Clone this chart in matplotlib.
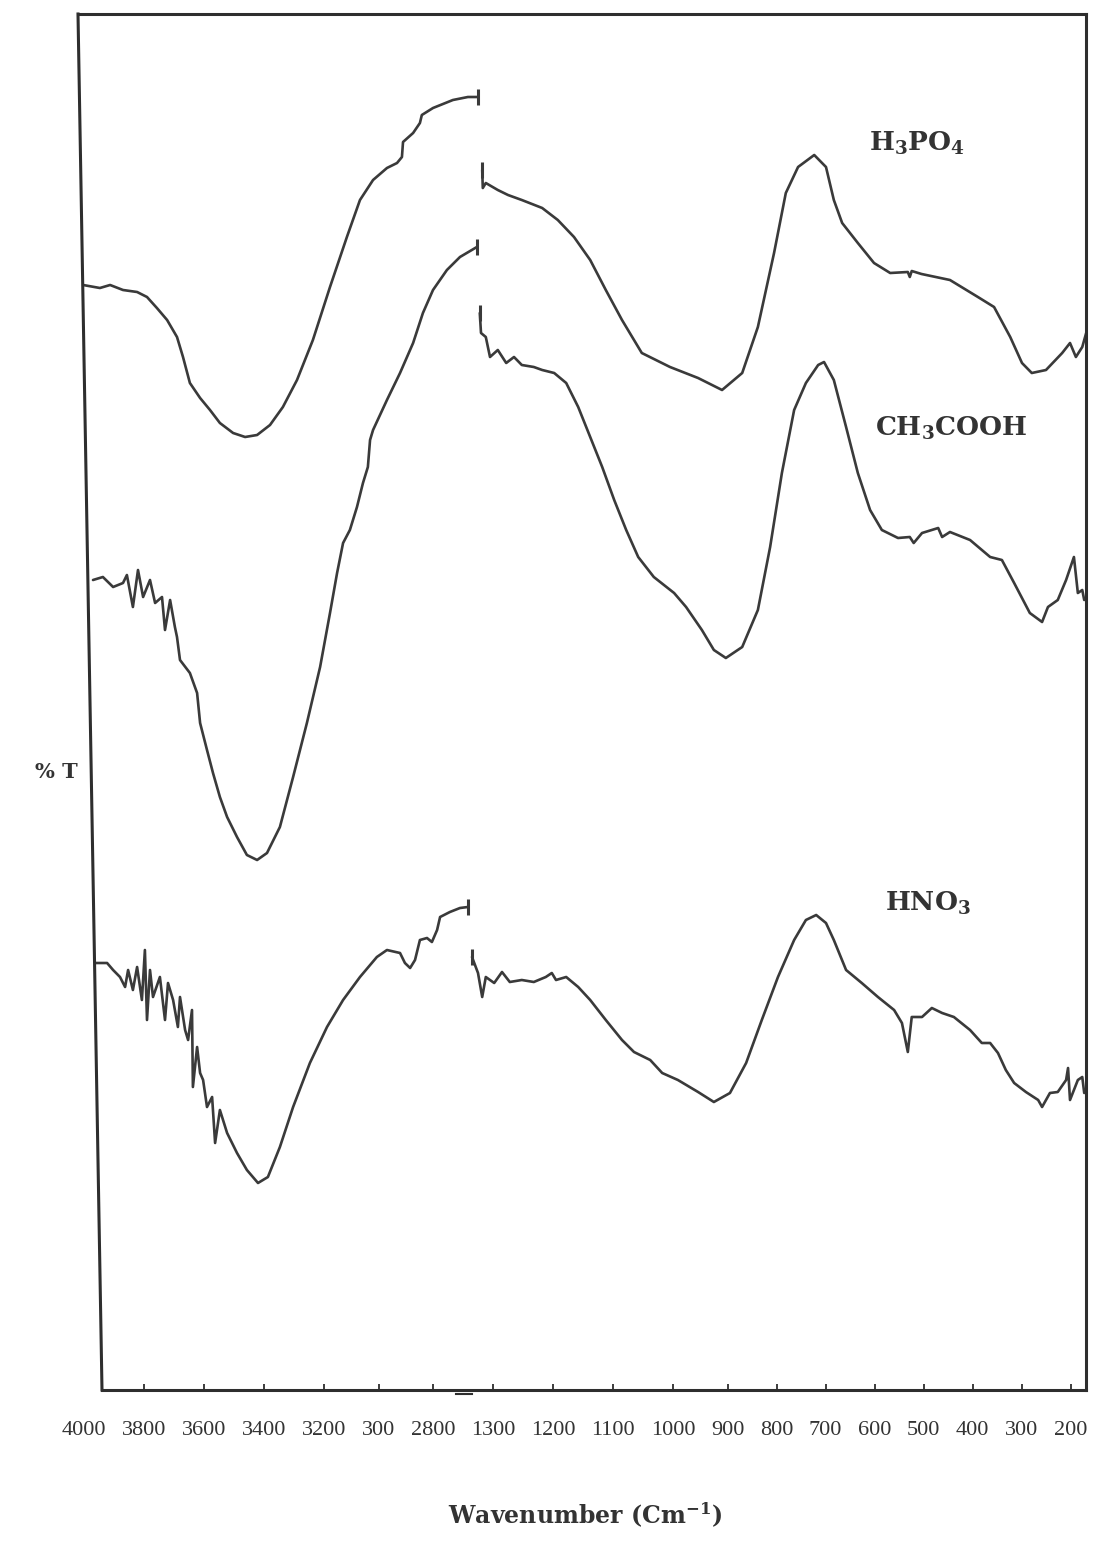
import numpy as np
import matplotlib.pyplot as plt

plt.rcParams['mathtext.fontset'] = 'dejavuserif'

# x axis is broken: 4000-2800 on the left, 1300-200 on the right
# (the chart prints "300" where 3000 belongs, kept as printed)
left_ticks = [4000, 3800, 3600, 3400, 3200, 3000, 2800]
left_tick_text = ['4000', '3800', '3600', '3400', '3200', '300', '2800']
right_ticks = [1300, 1200, 1100, 1000, 900, 800, 700, 600, 500, 400, 300, 200]
right_tick_text = [str(t) for t in right_ticks]

# spectra: wavenumber (cm-1) and stacked %T (arbitrary offset units)
h3po4_wn_hi = [4003, 3947, 3913, 3870, 3823, 3790, 3757, 3723, 3690, 3670, 3647, 3613,
               3580, 3547, 3503, 3463, 3423, 3380, 3337, 3290, 3237, 3178, 3116, 3068,
               3020, 2969, 2932, 2914, 2910, 2873, 2848, 2841, 2800, 2727, 2672, 2634]
h3po4_t_hi = [110.5, 110.2, 110.5, 110.0, 109.8, 109.3, 108.2, 107.0, 105.3, 103.3, 100.7, 99.2,
              98.0, 96.7, 95.7, 95.3, 95.5, 96.5, 98.3, 101.0, 105.0, 110.3, 115.3, 119.0,
              121.0, 122.2, 122.7, 123.3, 124.8, 125.7, 126.7, 127.5, 128.2, 129.0, 129.3, 129.3]
h3po4_wn_lo = [1318, 1317, 1312, 1292, 1275, 1252, 1218, 1192, 1165, 1138, 1112, 1085,
               1052, 1005, 954, 910, 870, 838, 805, 781, 756, 723, 699, 683, 666, 634,
               601, 568, 532, 528, 524, 504, 446, 389, 356, 323, 299, 279, 250, 217,
               201, 189, 176, 168]
h3po4_t_lo = [122.0, 120.2, 120.7, 120.0, 119.5, 119.0, 118.2, 117.0, 115.3, 113.0, 110.0, 107.0,
              103.7, 102.3, 101.2, 100.0, 101.7, 106.3, 113.7, 119.7, 122.3, 123.5, 122.3, 119.0,
              116.7, 114.7, 112.7, 111.7, 111.8, 111.3, 111.9, 111.6, 111.0, 109.3, 108.3, 105.3,
              102.7, 101.7, 102.0, 103.7, 104.7, 103.3, 104.3, 105.7]

ch3cooh_wn_hi = [3970, 3937, 3903, 3870, 3857, 3837, 3820, 3803, 3780, 3763, 3740, 3730,
                 3713, 3697, 3690, 3680, 3647, 3623, 3613, 3590, 3570, 3547, 3523, 3490,
                 3457, 3423, 3390, 3347, 3303, 3257, 3213, 3178, 3152, 3130, 3105, 3079,
                 3057, 3039, 3031, 3020, 2969, 2921, 2873, 2837, 2800, 2749, 2701, 2639]
ch3cooh_t_hi = [81.0, 81.3, 80.3, 80.7, 81.5, 78.3, 82.0, 79.3, 81.0, 78.7, 79.3, 76.0,
                79.0, 76.3, 75.3, 73.0, 71.7, 69.7, 66.7, 64.0, 61.7, 59.3, 57.3, 55.3,
                53.5, 53.0, 53.7, 56.3, 61.3, 66.7, 72.3, 77.7, 81.7, 84.7, 86.0, 88.3,
                90.7, 92.3, 95.0, 96.0, 99.0, 101.7, 104.7, 107.7, 110.0, 112.0, 113.3, 114.3]
ch3cooh_wn_lo = [1322, 1320, 1312, 1305, 1292, 1278, 1265, 1252, 1232, 1218, 1198, 1178,
                 1158, 1138, 1118, 1098, 1078, 1058, 1032, 998, 976, 947, 925, 903, 870,
                 838, 813, 789, 764, 740, 715, 703, 683, 658, 634, 609, 585, 552, 528,
                 520, 503, 470, 462, 446, 405, 364, 340, 315, 283, 258, 246, 226, 209,
                 193, 185, 176, 172]
ch3cooh_t_lo = [107.7, 105.7, 105.3, 103.3, 104.0, 102.7, 103.3, 102.5, 102.3, 102.0, 101.7, 100.7,
                98.3, 95.3, 92.3, 89.0, 86.0, 83.3, 81.3, 79.7, 78.3, 76.0, 74.0, 73.2, 74.3,
                78.0, 84.3, 91.7, 98.0, 100.7, 102.5, 102.8, 101.0, 96.3, 91.7, 88.0, 86.0, 85.2,
                85.3, 84.7, 85.7, 86.2, 85.3, 85.8, 85.0, 83.3, 83.0, 80.7, 77.7, 76.8, 78.3,
                79.0, 81.0, 83.3, 79.7, 80.0, 79.0]

hno3_wn_hi = [3963, 3923, 3903, 3880, 3863, 3853, 3837, 3823, 3807, 3797, 3790, 3780,
              3770, 3747, 3730, 3720, 3703, 3687, 3680, 3663, 3653, 3640, 3637, 3623,
              3613, 3603, 3590, 3573, 3563, 3547, 3523, 3490, 3457, 3420, 3387, 3347,
              3303, 3247, 3189, 3130, 3068, 3006, 2969, 2921, 2903, 2884, 2866, 2848,
              2822, 2804, 2785, 2774, 2738, 2701, 2672]
hno3_t_hi = [42.7, 42.7, 42.0, 41.3, 40.3, 42.0, 40.0, 42.3, 39.0, 44.0, 37.0, 42.0,
             39.3, 41.3, 37.0, 40.7, 39.0, 36.3, 39.3, 36.0, 35.0, 38.0, 30.3, 34.3,
             31.7, 31.0, 28.3, 29.3, 24.7, 28.0, 25.7, 23.7, 22.0, 20.7, 21.3, 24.3,
             28.3, 32.7, 36.3, 39.0, 41.3, 43.3, 44.0, 43.7, 42.7, 42.2, 43.0, 45.0,
             45.2, 44.8, 46.0, 47.3, 47.8, 48.2, 48.3]
hno3_wn_lo = [1335, 1325, 1318, 1312, 1298, 1285, 1272, 1252, 1232, 1212, 1202, 1195,
              1178, 1158, 1138, 1112, 1085, 1065, 1038, 1018, 991, 954, 925, 895, 862,
              830, 797, 764, 740, 719, 699, 683, 658, 626, 593, 560, 544, 532, 524,
              503, 483, 462, 438, 405, 381, 364, 348, 332, 315, 291, 266, 258, 242,
              226, 209, 205, 201, 185, 176, 172]
hno3_t_lo = [43.3, 41.7, 39.3, 41.3, 40.7, 41.8, 40.8, 41.0, 40.8, 41.3, 41.7, 41.0,
             41.3, 40.3, 39.0, 37.0, 35.0, 33.8, 33.0, 31.7, 31.0, 29.8, 28.8, 29.7, 32.7,
             37.0, 41.3, 45.0, 47.0, 47.5, 46.7, 45.0, 42.0, 40.7, 39.3, 38.0, 36.7, 33.8,
             37.3, 37.3, 38.2, 37.7, 37.3, 36.0, 34.7, 34.7, 33.7, 32.0, 30.7, 29.8, 29.0,
             28.3, 29.7, 29.8, 31.0, 32.2, 29.0, 31.0, 31.3, 29.7]

# where the printed tick labels sit along the frame (the axis is not linear)
left_tick_pos = [84, 144, 204, 264, 324, 378.5, 433]
right_tick_pos = [493, 553, 613, 673, 727.5, 776.5, 825.5, 874.5, 923.5, 972.5, 1021.5, 1070.5]

INK = '#3a3a3a'


def wn_to_pos(wn, ref_wn, ref_pos):
    # piecewise linear through the printed ticks, extended past the ends
    wn = np.asarray(wn, dtype=float)
    w = np.asarray(ref_wn, dtype=float)[::-1]
    p = np.asarray(ref_pos, dtype=float)[::-1]
    out = np.interp(wn, w, p)
    lo = wn < w[0]
    out[lo] = p[0] + (wn[lo] - w[0]) * (p[1] - p[0]) / (w[1] - w[0])
    hi = wn > w[-1]
    out[hi] = p[-1] + (wn[hi] - w[-1]) * (p[-1] - p[-2]) / (w[-1] - w[-2])
    return out


fig = plt.figure(figsize=(10.96, 15.41), dpi=100)
ax = fig.add_axes([78 / 1096, 1 - 1390 / 1541, (1086 - 78) / 1096, (1390 - 14) / 1541])
ax.set_xlim(78, 1086)
ax.set_ylim(0, 137.6)

spectra = [
    (h3po4_wn_hi, h3po4_t_hi, h3po4_wn_lo, h3po4_t_lo),
    (ch3cooh_wn_hi, ch3cooh_t_hi, ch3cooh_wn_lo, ch3cooh_t_lo),
    (hno3_wn_hi, hno3_t_hi, hno3_wn_lo, hno3_t_lo),
]
for wn_hi, t_hi, wn_lo, t_lo in spectra:
    x_hi = wn_to_pos(wn_hi, left_ticks, left_tick_pos)
    x_lo = wn_to_pos(wn_lo, right_ticks, right_tick_pos)
    ax.plot(x_hi, t_hi, color=INK, lw=1.9, solid_joinstyle='round', solid_capstyle='round')
    ax.plot(x_lo, t_lo, color=INK, lw=1.9, solid_joinstyle='round', solid_capstyle='round')
    # pen marks where the chart was broken
    ax.plot(x_hi[-1], t_hi[-1], marker='|', ms=12, mew=2.2, color=INK)
    ax.plot(x_lo[0], t_lo[0], marker='|', ms=12, mew=2.2, color=INK)

# frame: left edge of the scanned frame leans a little
for side in ['top', 'right', 'bottom']:
    ax.spines[side].set_color('#2e2e2e')
    ax.spines[side].set_linewidth(2.2)
ax.spines['left'].set_visible(False)
ax.spines['bottom'].set_bounds(102, 1086)
ax.plot([78, 102], [137.6, 0], color='#2e2e2e', lw=2.2, clip_on=False)
ax.plot([456, 472], [-0.4, -0.4], color='#2e2e2e', lw=1.5, clip_on=False)

ax.set_yticks([])
ax.set_xticks(list(wn_to_pos(left_ticks, left_ticks, left_tick_pos)) +
              list(wn_to_pos(right_ticks, right_ticks, right_tick_pos)))
ax.set_xticklabels(left_tick_text + right_tick_text, family='Liberation Serif',
                   fontsize=16, color='#333333')
ax.tick_params(axis='x', direction='in', length=4, width=1.3, color='#2e2e2e', pad=22)
ax.xaxis.get_major_ticks()[0].tick1line.set_visible(False)

lab = dict(family='DejaVu Serif', fontweight='bold', fontsize=19, color='#333333',
           ha='center', va='center')
ax.text(917, 124.7, r'$\mathbf{H_3PO_4}$', **lab)
ax.text(951, 96.2, r'$\mathbf{CH_3COOH}$', **lab)
ax.text(928, 48.7, r'$\mathbf{HNO_3}$', **lab)

fig.text(56 / 1096, 1 - 772 / 1541, '% T', family='DejaVu Serif', fontweight='bold',
         fontsize=15, color='#333333', ha='center', va='center')
fig.text(585 / 1096, 1 - 1515 / 1541, r'Wavenumber (Cm$^{\mathbf{-1}}$)',
         family='DejaVu Serif', fontweight='bold', fontsize=17, color='#333333',
         ha='center', va='center')

fig.savefig('out.png', dpi=100, facecolor='white')
